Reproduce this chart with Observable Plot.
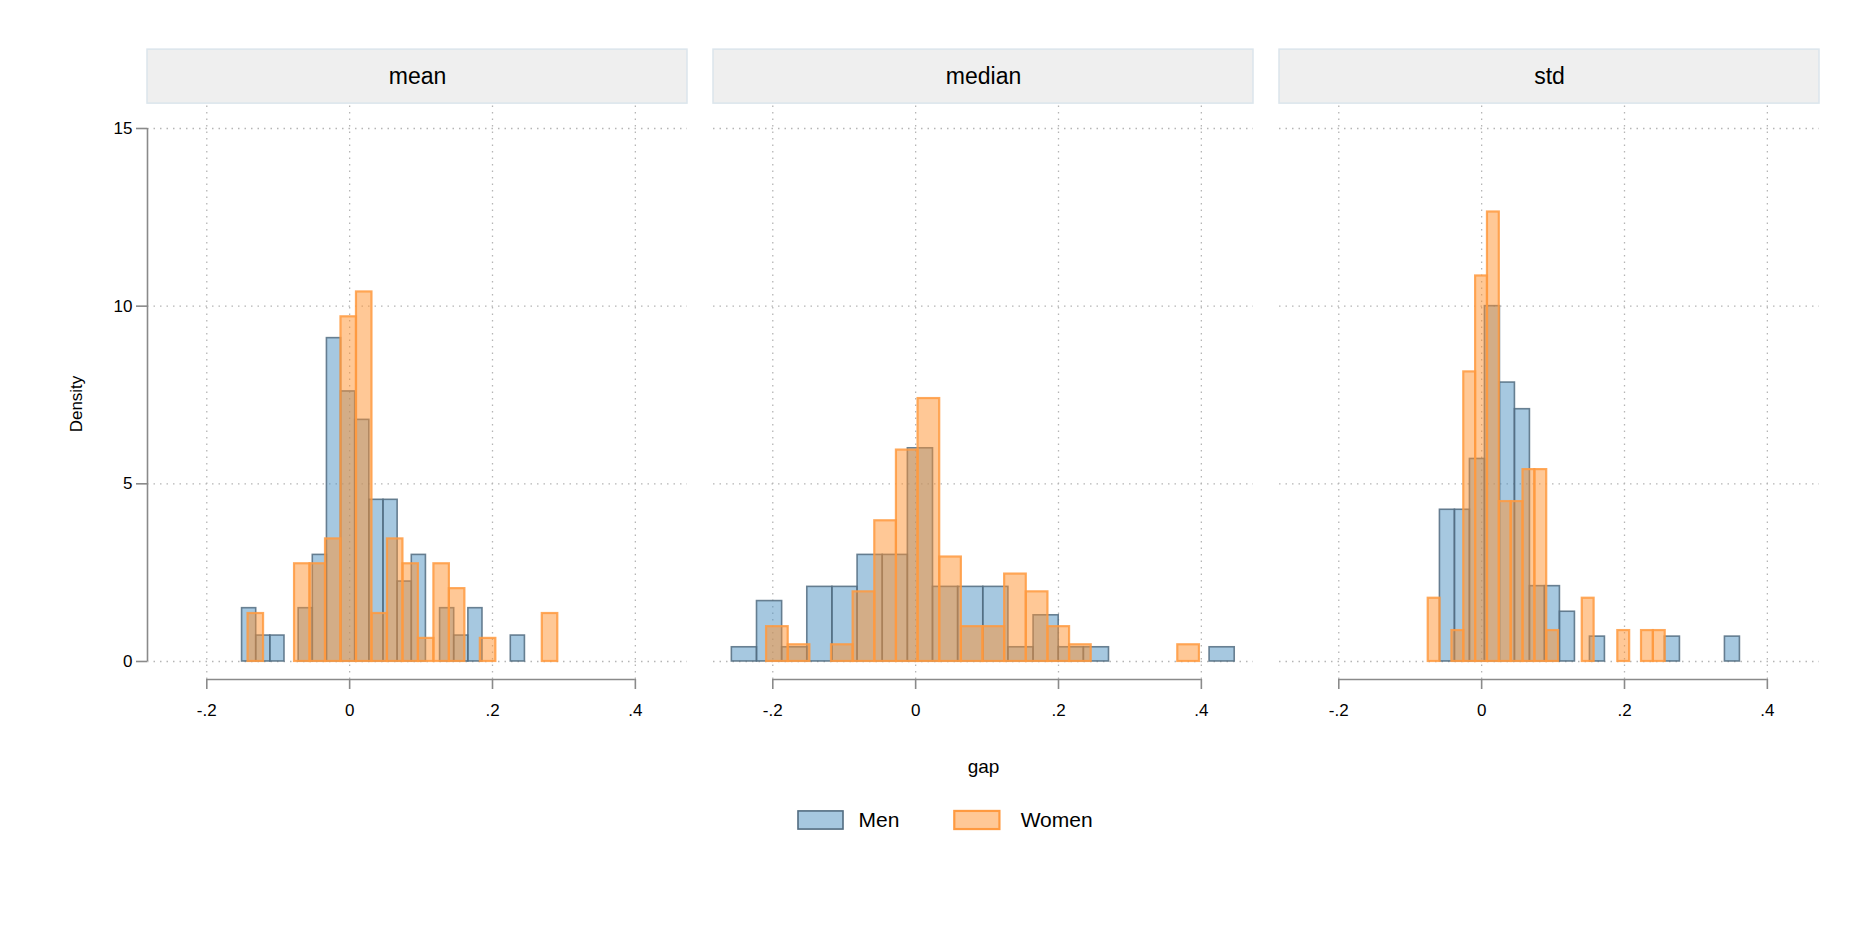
<!DOCTYPE html>
<html>
<head>
<meta charset="utf-8">
<script src="https://cdn.jsdelivr.net/npm/d3@7"></script>
<script src="https://cdn.jsdelivr.net/npm/@observablehq/plot@0.6"></script>
<style>
  body { margin: 0; background: #fff; }
</style>
</head>
<body>
<div id="chart"></div>
<script>
// panels and series
const panels = ['mean', 'median', 'std'];
const groups = ['Men', 'Women'];

// bin start / bin width / densities
const meanMenStart = -0.1506, meanMenWidth = 0.0198;
const meanMen = [1.5, 0.73, 0.73, 0, 1.5, 3.0, 9.1, 7.6, 6.8, 4.55, 4.55, 2.25, 3.0, 0, 1.5, 0.73, 1.5, 0, 0, 0.73];
const meanWomenStart = -0.1422, meanWomenWidth = 0.02168;
const meanWomen = [1.35, 0, 0, 2.75, 2.75, 3.45, 9.7, 10.4, 1.35, 3.45, 2.75, 0.65, 2.75, 2.05, 0, 0.65, 0, 0, 0, 1.35];

const medianMenStart = -0.2573, medianMenWidth = 0.0352;
const medianMen = [0.4, 1.7, 0.4, 2.1, 2.1, 3.0, 3.0, 6.0, 2.1, 2.1, 2.1, 0.4, 1.3, 0.4, 0.4, 0, 0, 0, 0, 0.4];
const medianWomenStart = -0.2087, medianWomenWidth = 0.0303;
const medianWomen = [0.98, 0.47, 0, 0.47, 1.96, 3.96, 5.95, 7.4, 2.94, 0.98, 0.98, 2.46, 1.96, 0.98, 0.47, 0, 0, 0, 0, 0.47];

const stdMenStart = -0.0584, stdMenWidth = 0.0210;
const stdMen = [4.27, 4.27, 5.7, 10.0, 7.85, 7.1, 2.12, 2.12, 1.4, 0, 0.7, 0, 0, 0, 0, 0.7, 0, 0, 0, 0.7];
const stdWomenStart = -0.0748, stdWomenWidth = 0.01659;
const stdWomen = [1.78, 0, 0.87, 8.15, 10.85, 12.65, 4.5, 4.5, 5.4, 5.4, 0.87, 0, 0, 1.78, 0, 0, 0.87, 0, 0.87, 0.87];

const xTicks = [-0.2, 0, 0.2, 0.4];
const yTicks = [0, 5, 10, 15];

function bins(panel, group, start, width, heights) {
  return heights.map((h, k) => ({
    panel, group,
    x1: start + k * width,
    x2: start + (k + 1) * width,
    density: h
  })).filter(d => d.density > 0);
}

const bars = [
  ...bins('mean', 'Men', meanMenStart, meanMenWidth, meanMen),
  ...bins('mean', 'Women', meanWomenStart, meanWomenWidth, meanWomen),
  ...bins('median', 'Men', medianMenStart, medianMenWidth, medianMen),
  ...bins('median', 'Women', medianWomenStart, medianWomenWidth, medianWomen),
  ...bins('std', 'Men', stdMenStart, stdMenWidth, stdMen),
  ...bins('std', 'Women', stdWomenStart, stdWomenWidth, stdWomen)
];

const xMin = -0.283, xMax = 0.473;
const yBase = -0.507;
const menFill = '#4d91c1', menStroke = '#526c80';
const womenFill = '#ff912d', womenStroke = '#ff9a40';
const grid = '#b5b5b5';

const panelRows = panels.map(p => ({panel: p}));
const fmt = d => d === 0 ? '0' : String(d).replace('0.', '.');

let chart = Plot.plot({
  width: 1856,
  height: 928,
  marginLeft: 146,
  marginRight: 36,
  marginTop: 128,
  marginBottom: 249,
  fx: {domain: panels, padding: 0.046, axis: null},
  x: {domain: [xMin, xMax], label: null},
  y: {domain: [yBase, 15], label: null},
  style: {fontFamily: 'Liberation Sans, Arial, sans-serif', fontSize: '17px', color: '#000'},
  marks: [
    // strip headers
    Plot.rect(panelRows, {fx: 'panel', x1: xMin, x2: xMax, y1: 15.7, y2: 17.22, fill: '#efefef', stroke: '#dbe5ec', strokeWidth: 1.5}),
    Plot.text(panelRows, {fx: 'panel', x: (xMin + xMax) / 2, y: 16.46, text: 'panel', fontSize: 23}),
    // grid
    Plot.ruleY(yTicks, {x1: xMin, x2: xMax, stroke: grid, strokeDasharray: '1.5,5', strokeWidth: 1.3}),
    Plot.ruleX(xTicks, {y1: yBase, y2: 15.7, stroke: grid, strokeDasharray: '1.5,5', strokeWidth: 1.3}),
    // axis lines
    Plot.ruleX([{panel: 'mean'}], {fx: 'panel', x: xMin, y1: 0, y2: 15, stroke: '#8a8a8a', strokeWidth: 1.6}),
    Plot.ruleY(panelRows, {fx: 'panel', y: yBase, x1: -0.2, x2: 0.4, stroke: '#8a8a8a', strokeWidth: 1.6}),
    Plot.axisY({ticks: yTicks, tickSize: 11, tickPadding: 4, stroke: '#8a8a8a', strokeWidth: 1.6, anchor: 'left',
      label: 'Density', labelAnchor: 'center', labelOffset: 78, labelArrow: false}),
    Plot.axisX({ticks: xTicks, tickSize: 10, tickPadding: 14, tickFormat: fmt, stroke: '#8a8a8a', strokeWidth: 1.6, label: null}),
    // histograms
    Plot.rect(bars.filter(d => d.group === 'Men'), {fx: 'panel', x1: 'x1', x2: 'x2', y1: 0, y2: 'density',
      fill: menFill, fillOpacity: 0.5, stroke: menStroke, strokeWidth: 1.6, strokeOpacity: 0.85}),
    Plot.rect(bars.filter(d => d.group === 'Women'), {fx: 'panel', x1: 'x1', x2: 'x2', y1: 0, y2: 'density',
      fill: womenFill, fillOpacity: 0.5, stroke: womenStroke, strokeWidth: 2.2, strokeOpacity: 0.85}),
    // x title and legend
    Plot.text([{panel: 'median'}], {fx: 'panel', x: (xMin + xMax) / 2, y: -2.98, text: () => 'gap', fontSize: 19}),
    Plot.rect([{panel: 'median', g: 'Men'}], {fx: 'panel', x1: -0.164, x2: -0.101, y1: -4.73, y2: -4.22,
      fill: menFill, fillOpacity: 0.5, stroke: menStroke, strokeWidth: 1.6}),
    Plot.rect([{panel: 'median', g: 'Women'}], {fx: 'panel', x1: 0.0548, x2: 0.118, y1: -4.73, y2: -4.22,
      fill: womenFill, fillOpacity: 0.5, stroke: womenStroke, strokeWidth: 2.2}),
    Plot.text([{panel: 'median', g: groups[0], x: -0.080}, {panel: 'median', g: groups[1], x: 0.147}],
      {fx: 'panel', x: 'x', y: -4.47, text: 'g', textAnchor: 'start', fontSize: 21})
  ]
});
d3.select('#chart').append(() => chart);
</script>
</body>
</html>
